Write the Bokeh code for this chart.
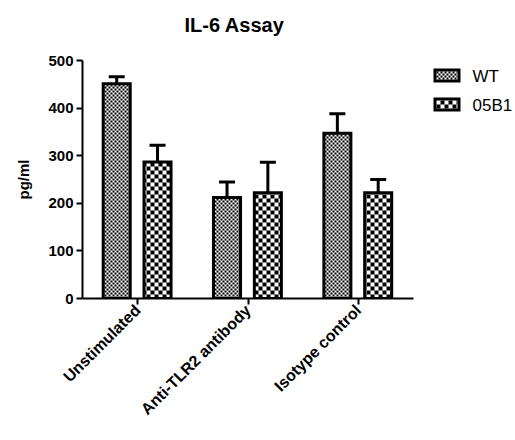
import math
from bokeh.plotting import figure
from bokeh.layouts import row
from bokeh.models import ColumnDataSource, Whisker, TeeHead, FixedTicker, Range1d, Title
from bokeh.core.properties import value
from bokeh.embed import file_html
from bokeh.resources import INLINE

categories = ["Unstimulated", "Anti-TLR2 antibody", "Isotype control"]
series = ["WT", "05B1"]
wt_mean = [451, 212, 347]
wt_err = [15, 33, 41]
b1_mean = [287, 222, 222]
b1_err = [35, 64, 28]
y_ticks = [0, 100, 200, 300, 400, 500]

FONT = "Liberation Sans"

# layout constants (pixels)
BORDER_L, BORDER_R, BORDER_T, BORDER_B = 82, 10, 60, 132
MAIN_W, H = 423, 430
FRAME_W = MAIN_W - BORDER_L - BORDER_R
FRAME_H = H - BORDER_T - BORDER_B
Y_MAX = 500
N = len(categories)
KX = FRAME_W / N          # px per x unit
KY = FRAME_H / Y_MAX      # px per y unit
BAR_W = 0.245
OFFSETS = [-0.19, 0.18]
CELLS = [2, 4]


def checker(centers, values, cell):
    """black cells of a checkerboard (pixel-grid aligned) filling each bar"""
    L, R, B, T = [], [], [], []
    half = BAR_W * KX / 2
    for c, v in zip(centers, values):
        x0, x1 = c * KX - half, c * KX + half
        y1 = v * KY
        i0, i1 = math.floor(x0 / cell), math.ceil(x1 / cell)
        for i in range(i0, i1):
            for j in range(0, math.ceil(y1 / cell)):
                if (i + j) % 2:
                    continue
                a, b = max(i * cell, x0), min((i + 1) * cell, x1)
                d = min((j + 1) * cell, y1)
                L.append(a / KX); R.append(b / KX); B.append(j * cell / KY); T.append(d / KY)
    return L, R, B, T


p = figure(x_range=Range1d(0, N), y_range=Range1d(0, Y_MAX), width=MAIN_W, height=H,
           output_backend="svg", toolbar_location=None, title=None,
           min_border_left=BORDER_L, min_border_right=BORDER_R,
           min_border_top=BORDER_T, min_border_bottom=BORDER_B)
p.outline_line_color = None
p.grid.visible = False

# spacer between frame and title, then the title itself
p.add_layout(Title(text=" ", text_font_size="1px", standoff=22), "above")
p.add_layout(Title(text="IL-6 Assay", text_font=FONT, text_font_style="bold",
                   text_font_size="20px", text_color="black", align="left", offset=102,
                   vertical_align="bottom", standoff=0), "above")

centers = [i + 0.5 for i in range(N)]
for means, errs, off, cell in [(wt_mean, wt_err, OFFSETS[0], CELLS[0]),
                               (b1_mean, b1_err, OFFSETS[1], CELLS[1])]:
    xs = [c + off for c in centers]
    src = ColumnDataSource(dict(x=xs, top=means, up=[m + e for m, e in zip(means, errs)]))
    Lq, Rq, Bq, Tq = checker(xs, means, cell)
    p.quad(left=Lq, right=Rq, bottom=Bq, top=Tq, fill_color="black", line_color=None)
    p.vbar(x="x", top="top", width=BAR_W, source=src, fill_color=None,
           line_color="black", line_width=3, line_join="miter")
    p.add_layout(Whisker(base="x", upper="up", lower="top", source=src,
                         line_width=3, line_color="black", lower_head=None,
                         upper_head=TeeHead(size=16, line_width=3, line_color="black")))

p.xaxis.ticker = FixedTicker(ticks=centers)
p.xaxis.major_label_overrides = {c: name for c, name in zip(centers, categories)}
p.yaxis.ticker = FixedTicker(ticks=y_ticks)
for ax in [p.xaxis[0], p.yaxis[0]]:
    ax.axis_line_width = 2
    ax.major_tick_line_width = 2
    ax.major_tick_out = 6
    ax.major_tick_in = 0
    ax.minor_tick_line_color = None
    ax.major_label_text_font = FONT
    ax.major_label_text_font_style = "bold"
    ax.major_label_text_color = "black"
    ax.axis_line_color = "black"
    ax.major_tick_line_color = "black"
p.yaxis.major_label_text_font_size = "15px"
p.xaxis.major_label_text_font_size = "16px"
p.yaxis.major_label_standoff = 3
p.xaxis.major_label_standoff = 3
p.xaxis.major_label_orientation = 0.785398
p.yaxis.axis_label = "pg/ml"
p.yaxis.axis_label_text_font = FONT
p.yaxis.axis_label_text_font_style = "bold"
p.yaxis.axis_label_text_font_size = "15px"
p.yaxis.axis_label_text_color = "black"
p.yaxis.axis_label_standoff = 13

# legend panel (data units = pixels; its frame lines up with the main frame)
LEG_W = 90
q = figure(x_range=Range1d(0, LEG_W), y_range=Range1d(BORDER_T + FRAME_H, BORDER_T),
           width=LEG_W, height=H, output_backend="svg", toolbar_location=None,
           x_axis_type=None, y_axis_type=None, min_border=0)
q.outline_line_color = None
q.grid.visible = False
patch_x, patch_w, patch_h, border = 10, 27, 14, 3
patch_y = [68, 97]
for k, (name, cell) in enumerate(zip(series, CELLS)):
    y0 = patch_y[k]
    x0 = patch_x
    ix0, ix1, iy0, iy1 = x0 + border, x0 + patch_w - border, y0 + border, y0 + patch_h - border
    L, R, B, T = [], [], [], []
    for i in range(math.ceil((ix1 - ix0) / cell)):
        for j in range(math.ceil((iy1 - iy0) / cell)):
            if (i + j + k) % 2:
                continue
            L.append(ix0 + i * cell); R.append(min(ix0 + (i + 1) * cell, ix1))
            T.append(iy0 + j * cell); B.append(min(iy0 + (j + 1) * cell, iy1))
    q.quad(left=[x0], right=[x0 + patch_w], top=[y0], bottom=[y0 + patch_h],
           fill_color="black", line_color=None)
    q.quad(left=[ix0], right=[ix1], top=[iy0], bottom=[iy1], fill_color="white", line_color=None)
    q.quad(left=L, right=R, top=T, bottom=B, fill_color="black", line_color=None)
    q.text(x=[x0 + patch_w + 12], y=[y0 + patch_h / 2 + 1], text=[name], text_font=value(FONT),
           text_font_size="17px", text_baseline="middle", text_align="left", text_color="black")

layout = row(p, q, spacing=0)
open("out.html", "w").write(file_html(layout, INLINE))
